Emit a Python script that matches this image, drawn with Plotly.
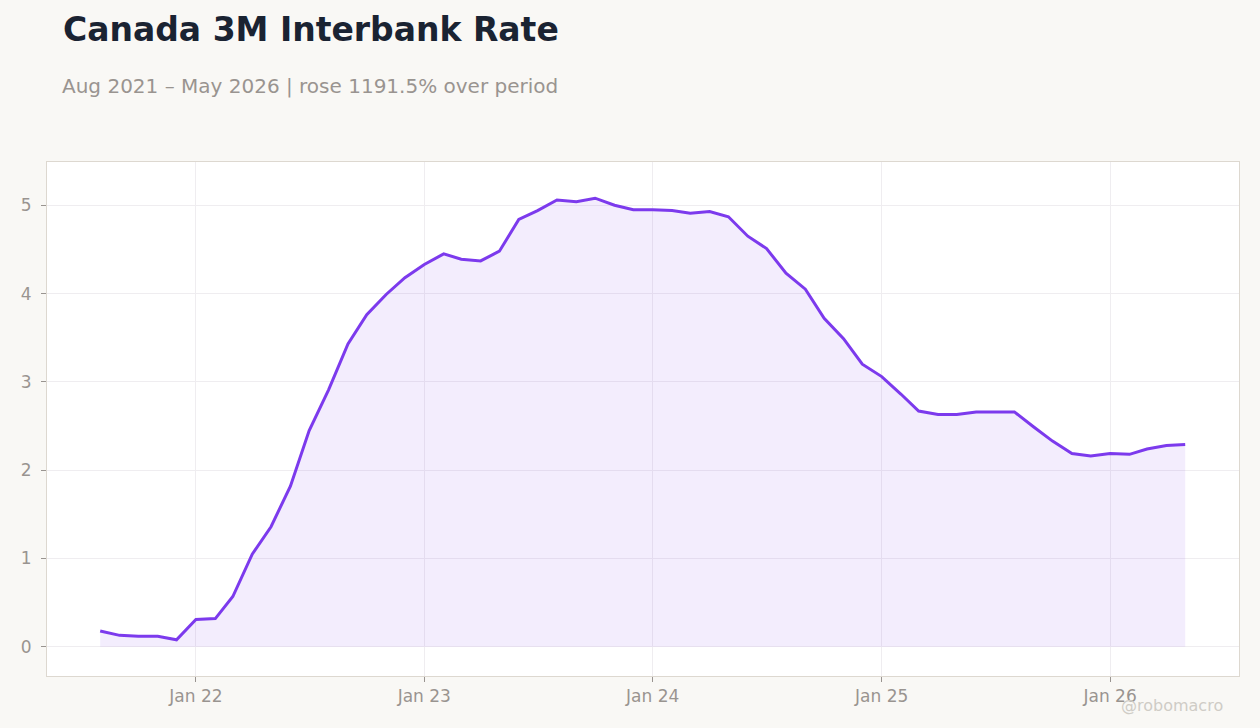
import pandas as pd
import plotly.graph_objects as go

# Monthly 3M interbank rate, Aug 2021 - May 2026 (%)
dates = pd.date_range("2021-08-01", "2026-05-01", freq="MS")
rate = [
    0.18, 0.13, 0.12, 0.12, 0.08,
    0.31, 0.32, 0.57, 1.05, 1.36, 1.82, 2.45, 2.91, 3.43, 3.76, 3.99, 4.18,
    4.33, 4.45, 4.39, 4.37, 4.48, 4.84, 4.94, 5.06, 5.04, 5.08, 5.00, 4.95,
    4.95, 4.94, 4.91, 4.93, 4.87, 4.65, 4.51, 4.23, 4.05, 3.72, 3.49, 3.20,
    3.06, 2.86, 2.67, 2.63, 2.63, 2.66, 2.66, 2.66, 2.49, 2.33, 2.19, 2.16,
    2.19, 2.18, 2.24, 2.28, 2.29,
]
tick_dates = ["2022-01-01", "2023-01-01", "2024-01-01", "2025-01-01", "2026-01-01"]
tick_labels = ["Jan 22", "Jan 23", "Jan 24", "Jan 25", "Jan 26"]

title = "Canada 3M Interbank Rate"
subtitle = "Aug 2021 – May 2026 | rose 1191.5% over period"

fig = go.Figure()
fig.add_trace(
    go.Scatter(
        x=dates,
        y=rate,
        mode="lines",
        line=dict(color="#7c3aed", width=3),
        fill="tozeroy",
        fillcolor="rgba(124,58,237,0.09)",
        showlegend=False,
    )
)

fig.update_layout(
    width=1260,
    height=728,
    paper_bgcolor="#f9f8f5",
    plot_bgcolor="#ffffff",
    font=dict(family="DejaVu Sans", color="#999490", size=16),
    margin=dict(l=47, r=21, t=162, b=52),
    title=dict(
        text=f"<b>{title}</b>",
        font=dict(size=33, color="#1a2332"),
        xref="container",
        yref="container",
        x=63 / 1260,
        xanchor="left",
        y=1 - 29 / 728,
        yanchor="middle",
    ),
    annotations=[
        dict(
            text=subtitle,
            xref="paper",
            yref="paper",
            x=(63 - 47) / 1192,
            y=1 + (162 - 86) / 514,
            xanchor="left",
            yanchor="middle",
            xshift=-3,
            showarrow=False,
            font=dict(size=20, color="#999490"),
        ),
        dict(
            text="@robomacro",
            xref="paper",
            yref="paper",
            x=(1225 - 47) / 1192,
            y=-(705 - 676) / 514,
            xanchor="right",
            yanchor="middle",
            showarrow=False,
            font=dict(size=16, color="#cfccc6"),
        ),
    ],
)

fig.update_xaxes(
    range=["2021-05-08", "2026-07-26"],
    tickvals=tick_dates,
    ticktext=tick_labels,
    showgrid=True,
    gridcolor="#efedf0",
    ticks="outside",
    ticklen=5,
    tickcolor="#999490",
    tickfont=dict(size=17),
    showline=True,
    linecolor="#ddd8d0",
    mirror=True,
    zeroline=False,
)
fig.update_yaxes(
    range=[-0.33, 5.49],
    tickvals=[0, 1, 2, 3, 4, 5],
    showgrid=True,
    gridcolor="#efedf0",
    ticks="outside",
    ticklen=5,
    tickcolor="#999490",
    tickfont=dict(size=17),
    ticklabelstandoff=6,
    showline=True,
    linecolor="#ddd8d0",
    mirror=True,
    zeroline=False,
)

fig.write_html(
    "out.html",
    config={"displayModeBar": False},
    post_script="document.body.style.margin='0';",
)
